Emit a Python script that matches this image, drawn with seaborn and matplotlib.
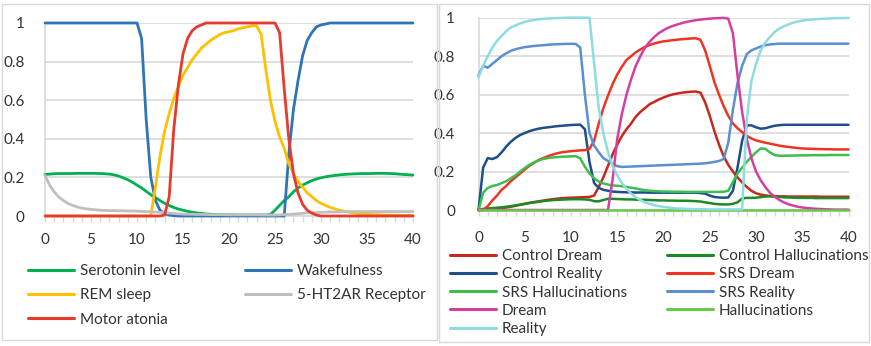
import matplotlib
matplotlib.use('Agg')
import matplotlib.pyplot as plt
from matplotlib.lines import Line2D
from matplotlib.patches import Rectangle
import seaborn as sns

# time axis (shared by both panels)
t = [0, 0.5, 1, 1.5, 2, 2.5, 3, 3.5, 4, 4.5,
     5, 5.5, 6, 6.5, 7, 7.5, 8, 8.5, 9, 9.5,
     10, 10.5, 11, 11.5, 12, 12.5, 13, 13.5, 14, 14.5,
     15, 15.5, 16, 16.5, 17, 17.5, 18, 18.5, 19, 19.5,
     20, 20.5, 21, 21.5, 22, 22.5, 23, 23.5, 24, 24.5,
     25, 25.5, 26, 26.5, 27, 27.5, 28, 28.5, 29, 29.5,
     30, 30.5, 31, 31.5, 32, 32.5, 33, 33.5, 34, 34.5,
     35, 35.5, 36, 36.5, 37, 37.5, 38, 38.5, 39, 39.5,
     40]
x_ticks = [0, 5, 10, 15, 20, 25, 30, 35, 40]
y_ticks = [0, 0.2, 0.4, 0.6, 0.8, 1]
y_tick_labels = ['0', '0.2', '0.4', '0.6', '0.8', '1']

# ---- left panel ----
serotonin = [0.215, 0.217, 0.219, 0.22, 0.22, 0.22, 0.22, 0.221, 0.221, 0.221,
             0.221, 0.221, 0.22, 0.219, 0.217, 0.213, 0.207, 0.198, 0.188, 0.175,
             0.16, 0.145, 0.128, 0.11, 0.095, 0.08, 0.066, 0.054, 0.044, 0.036,
             0.03, 0.024, 0.02, 0.016, 0.013, 0.011, 0.009, 0.008, 0.007, 0.006,
             0.006, 0.006, 0.005, 0.005, 0.005, 0.005, 0.005, 0.005, 0.005, 0.008,
             0.03, 0.055, 0.08, 0.1, 0.125, 0.145, 0.16, 0.172, 0.183, 0.192,
             0.198, 0.203, 0.207, 0.21, 0.213, 0.215, 0.217, 0.218, 0.219, 0.22,
             0.22, 0.22, 0.221, 0.221, 0.221, 0.22, 0.219, 0.217, 0.215, 0.214,
             0.212]
wakefulness = [1, 1, 1, 1, 1, 1, 1, 1, 1, 1,
               1, 1, 1, 1, 1, 1, 1, 1, 1, 1,
               1.0, 0.92, 0.5, 0.2, 0.08, 0.03, 0.012, 0.005, 0.002, 0.0,
               0, 0, 0, 0, 0, 0, 0, 0, 0, 0,
               0, 0, 0, 0, 0, 0, 0, 0, 0, 0,
               0, 0, 0, 0.32, 0.55, 0.7, 0.83, 0.91, 0.95, 0.98,
               0.99, 0.995, 1, 1, 1, 1, 1, 1, 1, 1,
               1, 1, 1, 1, 1, 1, 1, 1, 1, 1,
               1]
rem_sleep = [0, 0, 0, 0, 0, 0, 0, 0, 0, 0,
             0, 0, 0, 0, 0, 0, 0, 0, 0, 0,
             0, 0, 0, 0, 0.15, 0.31, 0.44, 0.53, 0.61, 0.67,
             0.73, 0.77, 0.81, 0.84, 0.87, 0.89, 0.91, 0.925, 0.94, 0.95,
             0.955, 0.96, 0.97, 0.975, 0.98, 0.985, 0.985, 0.94, 0.76, 0.6,
             0.49, 0.41, 0.35, 0.27, 0.22, 0.18, 0.15, 0.12, 0.1, 0.08,
             0.065, 0.055, 0.045, 0.037, 0.03, 0.025, 0.02, 0.016, 0.013, 0.011,
             0.009, 0.008, 0.007, 0.006, 0.005, 0.005, 0.004, 0.004, 0.003, 0.003,
             0.003]
receptor = [0.21, 0.16, 0.125, 0.098, 0.08, 0.065, 0.055, 0.047, 0.041, 0.037,
            0.034, 0.032, 0.03, 0.029, 0.028, 0.028, 0.027, 0.027, 0.026, 0.026,
            0.025, 0.024, 0.023, 0.022, 0.02, 0.019, 0.017, 0.015, 0.013, 0.011,
            0.01, 0.009, 0.009, 0.008, 0.008, 0.008, 0.007, 0.007, 0.007, 0.007,
            0.006, 0.006, 0.006, 0.006, 0.006, 0.006, 0.006, 0.005, 0.005, 0.005,
            0.005, 0.006, 0.007, 0.008, 0.01, 0.012, 0.014, 0.016, 0.017, 0.018,
            0.019, 0.02, 0.021, 0.021, 0.022, 0.022, 0.022, 0.023, 0.023, 0.023,
            0.023, 0.023, 0.023, 0.023, 0.023, 0.023, 0.023, 0.023, 0.023, 0.023,
            0.023]
motor_atonia = [0, 0, 0, 0, 0, 0, 0, 0, 0, 0,
                0, 0, 0, 0, 0, 0, 0, 0, 0, 0,
                0, 0, 0, 0, 0, 0, 0.005, 0.1, 0.45, 0.68,
                0.84, 0.92, 0.96, 0.98, 0.99, 1, 1, 1, 1, 1,
                1, 1, 1, 1, 1, 1, 1, 1, 1, 1,
                1.0, 0.95, 0.66, 0.4, 0.22, 0.12, 0.06, 0.03, 0.015, 0.005,
                0, 0, 0, 0, 0, 0, 0, 0, 0, 0,
                0, 0, 0, 0, 0, 0, 0, 0, 0, 0,
                0]

left_series = [serotonin, wakefulness, rem_sleep, receptor, motor_atonia]
left_names = ['Serotonin level', 'Wakefulness', 'REM sleep', '5-HT2AR Receptor', 'Motor atonia']
left_colors = ['#00B050', '#2E75B6', '#FFC000', '#BFBFBF', '#E63A2E']

# ---- right panel ----
control_dream = [0, 0, 0.002, 0.004, 0.006, 0.009, 0.013, 0.017, 0.022, 0.027,
                 0.032, 0.037, 0.041, 0.045, 0.049, 0.053, 0.056, 0.059, 0.061, 0.063,
                 0.064, 0.065, 0.066, 0.067, 0.068, 0.075, 0.12, 0.17, 0.23, 0.29,
                 0.34, 0.385, 0.42, 0.45, 0.485, 0.51, 0.53, 0.55, 0.562, 0.575,
                 0.585, 0.594, 0.601, 0.606, 0.61, 0.613, 0.615, 0.616, 0.61, 0.56,
                 0.49, 0.41, 0.34, 0.28, 0.235, 0.2, 0.17, 0.143, 0.12, 0.1,
                 0.087, 0.08, 0.076, 0.073, 0.072, 0.071, 0.071, 0.07, 0.07, 0.07,
                 0.07, 0.07, 0.07, 0.07, 0.069, 0.069, 0.069, 0.069, 0.069, 0.069,
                 0.069]
control_hallucinations = [0.0, 0.005, 0.008, 0.01, 0.012, 0.014, 0.017, 0.02, 0.024, 0.028,
                          0.032, 0.036, 0.04, 0.043, 0.046, 0.049, 0.051, 0.053, 0.054, 0.055,
                          0.056, 0.056, 0.056, 0.055, 0.053, 0.046, 0.045, 0.052, 0.058, 0.058,
                          0.057, 0.056, 0.055, 0.055, 0.054, 0.053, 0.053, 0.052, 0.051, 0.05,
                          0.05, 0.049, 0.049, 0.048, 0.048, 0.048, 0.047, 0.046, 0.044, 0.04,
                          0.036, 0.032, 0.03, 0.029, 0.029, 0.032, 0.04, 0.06, 0.063, 0.063,
                          0.064, 0.067, 0.07, 0.071, 0.07, 0.068, 0.066, 0.065, 0.064, 0.064,
                          0.063, 0.063, 0.063, 0.062, 0.062, 0.062, 0.062, 0.062, 0.062, 0.062,
                          0.062]
control_reality = [0.0, 0.22, 0.27, 0.265, 0.275, 0.3, 0.33, 0.355, 0.375, 0.39,
                   0.4, 0.41, 0.417, 0.423, 0.427, 0.43, 0.433, 0.436, 0.438, 0.44,
                   0.442, 0.443, 0.444, 0.42, 0.25, 0.14, 0.115, 0.105, 0.1, 0.096,
                   0.094, 0.093, 0.092, 0.092, 0.091, 0.091, 0.091, 0.09, 0.09, 0.09,
                   0.09, 0.09, 0.09, 0.09, 0.09, 0.09, 0.09, 0.09, 0.088, 0.085,
                   0.075, 0.068, 0.065, 0.064, 0.065, 0.1, 0.22, 0.36, 0.44, 0.44,
                   0.43, 0.423, 0.425, 0.432, 0.438, 0.441, 0.443, 0.443, 0.443, 0.443,
                   0.443, 0.443, 0.443, 0.443, 0.443, 0.443, 0.443, 0.443, 0.443, 0.443,
                   0.443]
srs_dream = [0, 0.0, 0.02, 0.05, 0.075, 0.105, 0.125, 0.15, 0.17, 0.19,
             0.21, 0.23, 0.245, 0.26, 0.27, 0.28, 0.288, 0.295, 0.3, 0.303,
             0.306, 0.308, 0.31, 0.311, 0.318, 0.36, 0.45, 0.53, 0.595, 0.655,
             0.705, 0.745, 0.78, 0.8, 0.82, 0.835, 0.848, 0.858, 0.866, 0.872,
             0.877, 0.88, 0.883, 0.886, 0.888, 0.89, 0.892, 0.893, 0.885, 0.83,
             0.75, 0.665, 0.6, 0.54, 0.49, 0.45, 0.425, 0.405, 0.385, 0.372,
             0.362, 0.356, 0.35, 0.345, 0.34, 0.335, 0.331, 0.328, 0.325, 0.322,
             0.32, 0.319, 0.318, 0.317, 0.317, 0.316, 0.316, 0.315, 0.315, 0.315,
             0.315]
srs_hallucinations = [0.0, 0.09, 0.115, 0.125, 0.13, 0.14, 0.15, 0.165, 0.18, 0.2,
                      0.218, 0.235, 0.248, 0.258, 0.265, 0.27, 0.273, 0.275, 0.277, 0.278,
                      0.279, 0.28, 0.268, 0.225, 0.19, 0.165, 0.148, 0.138, 0.132, 0.128,
                      0.126, 0.124, 0.12, 0.116, 0.112, 0.107, 0.103, 0.1, 0.098, 0.097,
                      0.096, 0.096, 0.095, 0.095, 0.095, 0.094, 0.094, 0.094, 0.094, 0.094,
                      0.094, 0.094, 0.094, 0.095, 0.1, 0.145, 0.19, 0.22, 0.25, 0.276,
                      0.3, 0.32, 0.318, 0.3, 0.286, 0.282, 0.282, 0.283, 0.283, 0.284,
                      0.284, 0.284, 0.285, 0.285, 0.285, 0.285, 0.286, 0.286, 0.286, 0.286,
                      0.286]
srs_reality = [0.7, 0.75, 0.74, 0.76, 0.78, 0.8, 0.815, 0.828, 0.836, 0.842,
               0.847, 0.85, 0.853, 0.855, 0.857, 0.859, 0.861, 0.862, 0.863, 0.864,
               0.864, 0.864, 0.845, 0.6, 0.4, 0.335, 0.3, 0.27, 0.255, 0.24,
               0.228, 0.224, 0.225, 0.226, 0.227, 0.228, 0.229, 0.23, 0.231, 0.232,
               0.233, 0.234, 0.235, 0.236, 0.237, 0.238, 0.239, 0.24, 0.241, 0.243,
               0.246, 0.25, 0.255, 0.265, 0.35, 0.52, 0.66, 0.75, 0.81, 0.83,
               0.84, 0.85, 0.857, 0.861, 0.863, 0.865, 0.865, 0.865, 0.865, 0.865,
               0.865, 0.865, 0.865, 0.865, 0.865, 0.865, 0.865, 0.865, 0.865, 0.865,
               0.865]
dream = [0, 0, 0, 0, 0, 0, 0, 0, 0, 0,
         0, 0, 0, 0, 0, 0, 0, 0, 0, 0,
         0, 0, 0, 0, 0, 0, 0, 0, 0, 0.16,
         0.37, 0.5, 0.6, 0.68, 0.75, 0.8, 0.845, 0.875, 0.9, 0.92,
         0.935, 0.948, 0.957, 0.965, 0.972, 0.978, 0.983, 0.987, 0.99, 0.993,
         0.995, 0.997, 0.998, 0.999, 0.995, 0.92, 0.7, 0.51, 0.37, 0.27,
         0.2, 0.155, 0.12, 0.09, 0.07, 0.053, 0.04, 0.03, 0.023, 0.017,
         0.013, 0.01, 0.008, 0.006, 0.005, 0.004, 0.003, 0.002, 0.002, 0.002,
         0.002]
hallucinations = [0, 0, 0, 0, 0, 0, 0, 0, 0, 0,
                  0, 0, 0, 0, 0, 0, 0, 0, 0, 0,
                  0, 0, 0, 0, 0, 0, 0, 0, 0, 0,
                  0, 0, 0, 0, 0, 0, 0, 0, 0, 0,
                  0, 0, 0, 0, 0, 0, 0, 0, 0, 0,
                  0, 0, 0, 0, 0, 0, 0, 0, 0, 0,
                  0, 0, 0, 0, 0, 0, 0, 0, 0, 0,
                  0, 0, 0, 0, 0, 0, 0, 0, 0, 0,
                  0]
reality = [0.69, 0.75, 0.8, 0.845, 0.88, 0.905, 0.93, 0.95, 0.96, 0.97,
           0.978, 0.984, 0.988, 0.992, 0.994, 0.996, 0.997, 0.998, 0.999, 1.0,
           1, 1, 1, 1, 1.0, 0.76, 0.53, 0.4, 0.3, 0.23,
           0.18, 0.14, 0.11, 0.085, 0.066, 0.052, 0.04, 0.032, 0.025, 0.02,
           0.016, 0.013, 0.01, 0.008, 0.007, 0.006, 0.005, 0.004, 0.004, 0.004,
           0.003, 0.003, 0.003, 0.003, 0.003, 0.003, 0.003, 0.003, 0.47, 0.67,
           0.76, 0.83, 0.87, 0.9, 0.925, 0.943, 0.955, 0.965, 0.974, 0.98,
           0.985, 0.988, 0.99, 0.992, 0.994, 0.995, 0.996, 0.997, 0.998, 0.998,
           0.999]

right_series = [control_dream, control_hallucinations, control_reality, srs_dream,
                srs_hallucinations, srs_reality, dream, hallucinations, reality]
right_names = ['Control Dream', 'Control Hallucinations', 'Control Reality', 'SRS Dream',
               'SRS Hallucinations', 'SRS Reality', 'Dream', 'Hallucinations', 'Reality']
right_colors = ['#C8281C', '#1E8A24', '#1F4E8C', '#EE3524',
                '#3DBE4E', '#5B8FD0', '#D33FA0', '#66C94A', '#8EDCE0']

sns.set_theme(style='white')
plt.rcParams['font.family'] = ['Lato', 'DejaVu Sans']

W, H = 871, 346
fig = plt.figure(figsize=(W / 100, H / 100), dpi=100)

# panel frames
fig.add_artist(Rectangle((2 / W, 6 / H), 435 / W, 336 / H, transform=fig.transFigure,
                         fill=False, edgecolor='#D9D9D9', lw=1))
fig.add_artist(Rectangle((438.5 / W, 4 / H), 430 / W, 338 / H, transform=fig.transFigure,
                         fill=False, edgecolor='#D9D9D9', lw=1))

ax1 = fig.add_axes([45 / W, 1 - 216 / H, 368 / W, 193 / H])
ax2 = fig.add_axes([478.5 / W, 1 - 210 / H, 370 / W, 192.3 / H])


def draw_panel(ax, series, names, colors, lw, ypad, xpad):
    for vals, name, c in zip(series, names, colors):
        sns.lineplot(x=t, y=vals, color=c, linewidth=lw, label=name,
                     errorbar=None, legend=False, ax=ax)
    for line in ax.lines:
        line.set_clip_on(False)
        line.set_zorder(3)
    ax.set_xlim(0, 40)
    ax.set_ylim(0, 1)
    ax.set_yticks(y_ticks)
    ax.set_yticklabels(y_tick_labels)
    ax.set_xticks(x_ticks)
    ax.set_xticks(range(41), minor=True)
    ax.set_xlabel('')
    ax.set_ylabel('')
    ax.grid(axis='y', color='#D9D9D9', lw=1.2)
    ax.set_axisbelow(True)
    for s in ['top', 'right']:
        ax.spines[s].set_visible(False)
    for s in ['left', 'bottom']:
        ax.spines[s].set_color('#D9D9D9')
        ax.spines[s].set_zorder(1)
    ax.tick_params(axis='x', which='both', bottom=True, length=4, width=1,
                   color='#D9D9D9', labelsize=11, labelcolor='#333333', pad=xpad)
    ax.tick_params(axis='y', left=False, labelsize=11, labelcolor='#333333', pad=ypad)


draw_panel(ax1, left_series, left_names, left_colors, 2.0, 8.5, 8)
draw_panel(ax2, right_series, right_names, right_colors, 1.8, 11, 11)


def add_legend(idx, series_colors, series_names, x, y, spacing, lw):
    handles = [Line2D([], [], color=series_colors[i], lw=lw) for i in idx]
    labels = [series_names[i] for i in idx]
    fig.legend(handles, labels, loc='upper left', bbox_to_anchor=(x / W, 1 - y / H),
               frameon=False, fontsize=11, handlelength=3.0, handletextpad=0.4,
               labelspacing=spacing, borderpad=0, borderaxespad=0, labelcolor='#333333')


# legends, Excel style row-wise ordering split into two columns
add_legend([0, 2, 4], left_colors, left_names, 28, 264, 0.68, 2.2)
add_legend([1, 3], left_colors, left_names, 245, 264, 0.68, 2.2)
add_legend([0, 2, 4, 6, 8], right_colors, right_names, 450, 249, 0.28, 2.2)
add_legend([1, 3, 5, 7], right_colors, right_names, 667, 249, 0.28, 2.2)

fig.savefig('out.png', dpi=100)
